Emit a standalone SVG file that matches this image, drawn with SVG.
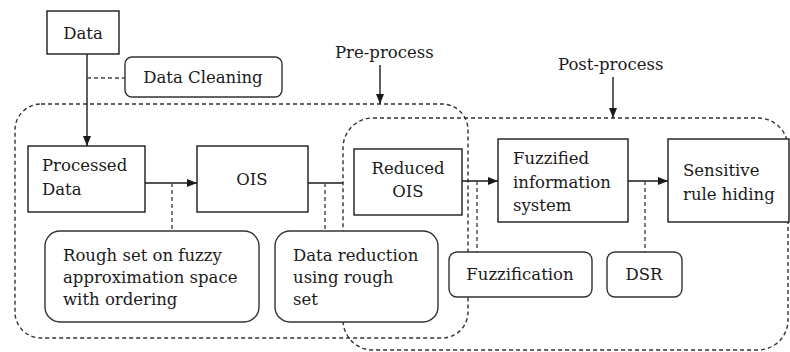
<svg xmlns="http://www.w3.org/2000/svg" width="790" height="352" viewBox="0 0 790 352">
<defs>
<marker id="ah" viewBox="0 0 10 8" refX="10" refY="4" markerWidth="10" markerHeight="8" markerUnits="userSpaceOnUse" orient="auto">
<path d="M0,0 L10,4 L0,8 Z" fill="#1a1a1a"/>
</marker>
</defs>
<style>
text{font-family:"DejaVu Serif","Liberation Serif",serif;font-size:16.5px;fill:#1a1a1a}
.box{fill:#fff;stroke:#1a1a1a;stroke-width:1.4}
.rbox{fill:#fff;stroke:#333;stroke-width:1.4}
.region{fill:none;stroke:#333;stroke-width:1.4;stroke-dasharray:4 3}
.line{fill:none;stroke:#1a1a1a;stroke-width:1.4}
.dash{fill:none;stroke:#444;stroke-width:1.4;stroke-dasharray:4 3}
.c{text-anchor:middle}
</style>
<rect width="790" height="352" fill="#fff"/>

<g id="regions">
<rect id="pre-process-region" class="region" x="15" y="104" width="453" height="234" rx="26"/>
<rect id="post-process-region" class="region" x="343" y="118" width="445" height="232" rx="30"/>
</g>

<g id="connectors">
<line class="line" x1="87" y1="54" x2="87" y2="146" marker-end="url(#ah)"/>
<line class="dash" x1="87" y1="78" x2="125" y2="78"/>
<line class="line" x1="145" y1="183" x2="197" y2="183" marker-end="url(#ah)"/>
<line class="line" x1="308" y1="183" x2="343" y2="183"/>
<line class="line" x1="462" y1="181" x2="498" y2="181" marker-end="url(#ah)"/>
<line class="line" x1="628" y1="181" x2="668" y2="181" marker-end="url(#ah)"/>
<line class="dash" x1="172" y1="183" x2="172" y2="231"/>
<line class="dash" x1="325" y1="183" x2="325" y2="231"/>
<line class="dash" x1="477" y1="181" x2="477" y2="252"/>
<line class="dash" x1="645" y1="181" x2="645" y2="252"/>
<line class="line" x1="380" y1="65" x2="380" y2="104" marker-end="url(#ah)"/>
<line class="line" x1="613" y1="77" x2="613" y2="118" marker-end="url(#ah)"/>
</g>

<g id="label-pre"><text x="335" y="58">Pre-process</text></g>
<g id="label-post"><text x="558" y="70">Post-process</text></g>

<g id="data"><rect class="box" x="47" y="11" width="72" height="43"/><text class="c" x="83" y="39">Data</text></g>
<g id="data-cleaning"><rect class="rbox" x="125" y="57" width="157" height="40" rx="7"/><text class="c" x="203" y="83">Data Cleaning</text></g>
<g id="processed-data"><rect class="box" x="28" y="146" width="117" height="66"/><text x="42" y="171">Processed</text><text x="42" y="195">Data</text></g>
<g id="ois"><rect class="box" x="197" y="146" width="111" height="66"/><text class="c" x="252" y="185">OIS</text></g>
<g id="reduced-ois"><rect class="box" x="354" y="149" width="108" height="66"/><text class="c" x="408" y="174">Reduced</text><text class="c" x="408" y="197">OIS</text></g>
<g id="fuzzified"><rect class="box" x="498" y="139" width="130" height="83"/><text x="513" y="164">Fuzzified</text><text x="513" y="188">information</text><text x="513" y="211">system</text></g>
<g id="sensitive"><rect class="box" x="668" y="139" width="121" height="83"/><text x="683" y="176">Sensitive</text><text x="683" y="200">rule hiding</text></g>
<g id="rough-set"><rect class="rbox" x="45" y="231" width="214" height="91" rx="15"/><text x="63" y="261">Rough set on fuzzy</text><text x="63" y="283">approximation space</text><text x="63" y="305">with ordering</text></g>
<g id="data-reduction"><rect class="rbox" x="275" y="231" width="163" height="91" rx="15"/><text x="293" y="261">Data reduction</text><text x="293" y="283">using rough</text><text x="293" y="305">set</text></g>
<g id="fuzzification"><rect class="rbox" x="449" y="252" width="143" height="45" rx="8"/><text class="c" x="520" y="280">Fuzzification</text></g>
<g id="dsr"><rect class="rbox" x="607" y="252" width="75" height="45" rx="8"/><text class="c" x="644" y="280">DSR</text></g>
</svg>
